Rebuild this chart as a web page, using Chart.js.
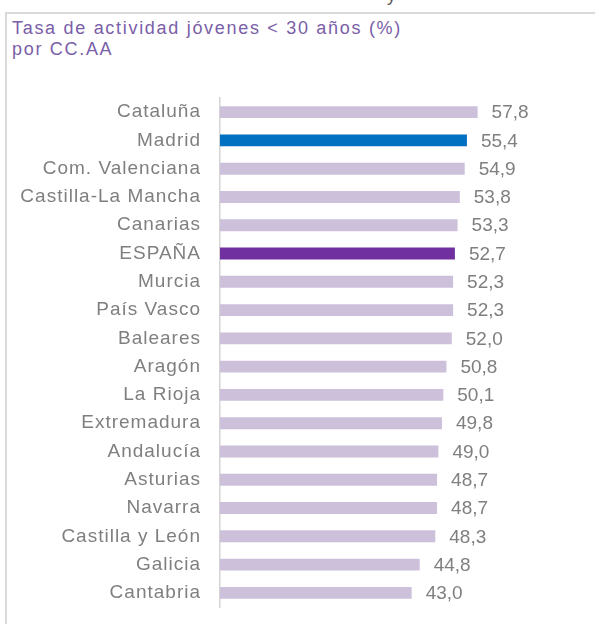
<!DOCTYPE html>
<html lang="es">
<head>
    <meta charset="UTF-8">
    <title>Tasa de actividad jóvenes &lt; 30 años (%) por CC.AA</title>
    <script src="https://cdn.jsdelivr.net/npm/chart.js"></script>
    <style>
        html, body { margin: 0; padding: 0; background: #fff; }
        body { width: 595px; height: 624px; position: relative; overflow: hidden; font-family: "Liberation Sans", Arial, sans-serif; }
        .marco { position: absolute; left: 5px; top: 12px; right: -4px; bottom: -4px; border-top: 2px solid #d9d9d9; border-left: 2px solid #d9d9d9; }
        .titulo { position: absolute; left: 12px; top: 18px; color: #7a5ea8; font-size: 18px; line-height: 21px; letter-spacing: 1.7px; }
        .recorte { position: absolute; left: 387px; top: -15px; color: #595959; font-size: 18px; }
        #chartTasa { position: absolute; left: 0; top: 0; }
    </style>
</head>
<body>
    <div class="recorte">y</div>
    <div class="marco"></div>
    <div class="titulo">Tasa de actividad jóvenes &lt; 30 años (%)<br>por CC.AA</div>
    <canvas id="chartTasa" width="595" height="624"></canvas>

    <script>
        // Datos
        const comunidades = ['Cataluña', 'Madrid', 'Com. Valenciana', 'Castilla-La Mancha', 'Canarias', 'ESPAÑA',
            'Murcia', 'País Vasco', 'Baleares', 'Aragón', 'La Rioja', 'Extremadura', 'Andalucía',
            'Asturias', 'Navarra', 'Castilla y León', 'Galicia', 'Cantabria'];
        const tasas = [57.8, 55.4, 54.9, 53.8, 53.3, 52.7, 52.3, 52.3, 52.0, 50.8, 50.1, 49.8, 49.0, 48.7, 48.7, 48.3, 44.8, 43.0];

        // Colores: Madrid y España destacados
        const colores = comunidades.map(c => c === 'Madrid' ? '#0070c0' : (c === 'ESPAÑA' ? '#7030a0' : '#ccc0da'));

        // Etiquetas con el valor al final de cada barra
        const etiquetasValor = {
            id: 'etiquetasValor',
            afterDatasetsDraw(chart) {
                const ctx = chart.ctx;
                const meta = chart.getDatasetMeta(0);
                ctx.save();
                ctx.letterSpacing = '0px';
                ctx.font = '19px "Liberation Sans", Arial, sans-serif';
                ctx.fillStyle = '#7f7f7f';
                ctx.textAlign = 'left';
                ctx.textBaseline = 'middle';
                meta.data.forEach((bar, i) => {
                    ctx.fillText(tasas[i].toFixed(1).replace('.', ','), bar.x + 14, bar.y + 1);
                });
                ctx.restore();
            }
        };

        // Espaciado de letras de las categorias, como en el original
        const espaciado = {
            id: 'espaciado',
            beforeDraw(chart) { chart.ctx.letterSpacing = '1px'; }
        };

        new Chart(document.getElementById('chartTasa'), {
            type: 'bar',
            data: {
                labels: comunidades,
                datasets: [{
                    data: tasas,
                    backgroundColor: colores,
                    borderWidth: 0,
                    barPercentage: 0.42,
                    categoryPercentage: 1
                }]
            },
            options: {
                indexAxis: 'y',
                responsive: false,
                animation: false,
                layout: { padding: { top: 98, bottom: 17, left: 0, right: 63 } },
                plugins: {
                    legend: { display: false },
                    tooltip: { enabled: false }
                },
                scales: {
                    x: { display: false, min: 0, max: 70 },
                    y: {
                        // ancho fijo del eje y sin relleno extra arriba/abajo
                        afterFit(scale) {
                            scale.width = 220;
                            scale.paddingTop = 0;
                            scale.paddingBottom = 0;
                        },
                        grid: { display: false, drawTicks: false },
                        border: { display: true, color: '#d4d4d4', width: 1.5 },
                        ticks: {
                            padding: 19,
                            color: '#7f7f7f',
                            font: { family: '"Liberation Sans", Arial, sans-serif', size: 19 }
                        }
                    }
                }
            },
            plugins: [espaciado, etiquetasValor]
        });
    </script>
</body>
</html>
